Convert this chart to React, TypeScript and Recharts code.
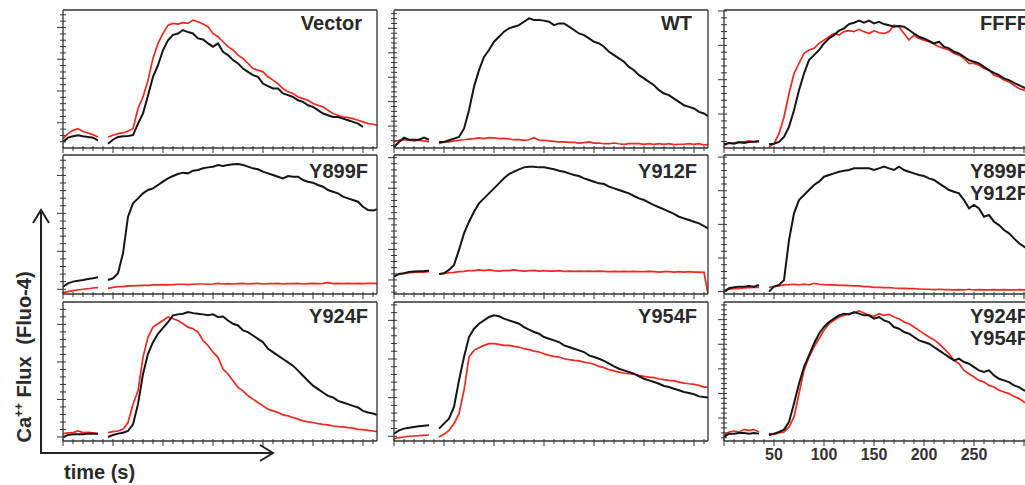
import { LineChart, Line, XAxis, YAxis } from "recharts";

// time points (s); 40 s is the gap where the stimulus was added
const TIME = [
  0, 5, 10, 15, 20, 25, 30, 35, 40,
  45, 50, 55, 60, 65, 70, 75, 80, 85, 90, 95, 100, 105, 110, 115, 120,
  125, 130, 135, 140, 145, 150, 155, 160, 165, 170, 175, 180, 185, 190, 195, 200,
  205, 210, 215, 220, 225, 230, 235, 240, 245, 250, 255, 260, 265, 270, 275, 280,
  285, 290, 295, 300, 305, 310, 314,
];

// values are % of panel height
const VECTOR_BLACK = [4.4, 7.5, 8.5, 9.2, 8.5, 8, 7.5, 5.6, null,
  3.1, 6, 8, 8.5, 8.7, 9.4, 17.7, 25, 38, 51.6, 60, 71, 78, 82, 83, 85.5,
  84, 83, 79.4, 78.7, 75.8, 73.4, 75.8, 69.7, 67.3, 63.7, 61.3, 57.6, 55.2, 52.8, 51.6, 46.7,
  44.8, 43.1, 43.1, 39.5, 38.3, 37, 34.6, 33.4, 31, 29.8, 27.4, 25, 23.7, 22.5, 22.5, 21.3,
  20.1, 18.9, 17.7, 15.3, null, null, null];
const VECTOR_RED = [6.8, 10.4, 12.8, 14, 12, 10.9, 9.7, 8, null,
  8, 9.2, 10.4, 10.9, 12.3, 14, 28.6, 37, 49, 65, 75.8, 83, 89, 90.3, 89.8, 90.8,
  90.3, 92.7, 91.5, 89.8, 87.9, 83, 80.6, 77, 73.4, 71, 67.3, 64.9, 61.3, 57.6, 56.4, 55.2,
  51.6, 49.2, 46.7, 43.1, 40.7, 39.5, 37, 35.8, 34.6, 32.2, 31, 29.8, 27.4, 25, 23.7, 22.5,
  22, 21.3, 20.1, 18.9, 17.7, 17.2, 16.5];

const WT_BLACK = [0.7, 4.4, 7.5, 6, 6, 6, 7.5, 6, null,
  4.4, 4.4, 5.6, 6.8, 8, 14, 27.4, 44.3, 56.4, 66, 71, 77, 80.6, 84.3, 86.7, 87.9,
  89, 91.5, 93.9, 92.7, 92.7, 92.3, 91.5, 89, 90.3, 90.3, 87.9, 85.5, 83, 81.8, 79.4, 77,
  75.8, 73.4, 69.7, 67.3, 64.9, 62.5, 58.8, 56.4, 52.8, 50.4, 47.9, 45.5, 41.9, 39.5, 38.3, 35.8,
  33.4, 31, 29.8, 28.6, 26.2, 25, 23];
const WT_RED = [4.4, 5.6, 6, 5.6, 5.1, 5.6, 5.1, 4.4, null,
  3.1, 4.4, 4.4, 5.1, 5.6, 6, 6.5, 6.8, 7.3, 6.8, 7.5, 7.3, 6.8, 7, 6.5, 6,
  6, 5.6, 6, 7.5, 5.6, 5.6, 5.1, 4.8, 4.4, 4.4, 4.1, 4.1, 3.6, 3.9, 4.4, 3.6,
  3.6, 3.1, 3.1, 3.6, 3.1, 2.7, 3.1, 3.1, 3.1, 2.7, 3.1, 2.7, 3.1, 2.7, 3.1, 2.4,
  2.7, 2.7, 3.1, 2.7, 3.1, 2.2, 2.4];

const FFFF_BLACK = [2.7, 3.6, 3.1, 4.1, 3.6, 4.4, 4.6, 5.1, null,
  2.7, 3.1, 4.4, 8, 15.3, 27.4, 41.9, 54, 63.7, 67.3, 71, 75.8, 79.4, 81.8, 85, 86.7,
  89.8, 90.8, 92.3, 90.8, 92.3, 90.3, 91.5, 89.8, 89, 87.9, 88.4, 87.9, 85.5, 83, 80.6, 79.4,
  77.7, 75.8, 77, 73.4, 72.2, 69.7, 68.5, 66.1, 63.7, 62.5, 61.3, 58.8, 56.4, 54.5, 52.8, 50.4,
  49.2, 47.2, 45.5, 43.8, 42.5, 41.2, 40];
const FFFF_RED = [1.9, 3.6, 3.6, 4.4, 4.4, 5.1, 4.6, 4.4, null,
  0.7, 3.1, 10.4, 22.5, 39.5, 54, 61.3, 68.5, 71, 72.2, 75.8, 78.2, 80.6, 83, 81.8, 84.3,
  85, 84.3, 86, 84.3, 83, 85, 83.5, 83, 84.3, 89, 87.9, 83, 78.2, 81.8, 79.4, 78.2,
  77, 75.3, 73.4, 72.2, 71, 68.5, 67.3, 64.9, 61.3, 61.3, 60, 57.6, 56.4, 52.8, 51.6, 49.2,
  47.9, 45.5, 43.1, 41.9, 40.8, 39.6, 38.5];

const Y899F_BLACK = [5.3, 7.7, 8.9, 9.6, 10.1, 10.8, 11.3, 12, null,
  10.1, 11.3, 14.9, 29.3, 55.6, 65.2, 68.8, 72.4, 74.8, 76, 78.4, 80.8, 83.2, 84.9, 86.3, 87.3,
  86.8, 88.7, 89.2, 90.4, 91.1, 91.6, 92.8, 92.1, 92.8, 93.3, 93.5, 92.8, 91.6, 90.4, 89.7, 88,
  86.8, 85.6, 84.4, 83.2, 84.9, 84.4, 84.4, 82, 80.8, 80.1, 78.4, 77.2, 74.8, 73.6, 72.4, 70,
  68.8, 67.6, 66.4, 62.8, 60.4, 60, 61];
const Y899F_RED = [1, 1.7, 2.4, 2.9, 3.4, 3.8, 4.3, 4.6, null,
  4.1, 4.8, 5.3, 5.3, 5.8, 5.8, 6, 6.2, 6.2, 6.5, 6.5, 6.7, 6.5, 6.7, 7, 7,
  6.7, 7, 7.2, 7.2, 7, 7.2, 7.7, 7.2, 7.5, 7.2, 7.5, 7.7, 7.2, 7.5, 7.7, 7.2,
  7.5, 7.5, 7.7, 7.2, 7.5, 7.5, 7.7, 7.2, 7.5, 7.7, 7.5, 7.7, 8.2, 7.5, 7.7, 7.5,
  7.7, 7.5, 7.7, 7.5, 7.7, 7.7, 7.5];

const Y912F_BLACK = [12.5, 14.4, 14.9, 15.8, 16.1, 16.3, 16.5, 16.8, null,
  14.4, 14.9, 17.3, 20.9, 31.7, 43.6, 52, 59.2, 65.2, 68.8, 72.4, 76, 79.6, 83.2, 86.3, 88,
  89.7, 91.1, 91.6, 91.6, 91.1, 91.1, 90.4, 89.7, 88.7, 88, 86.8, 85.6, 84.9, 83.2, 82, 80.8,
  79.6, 79.1, 77.2, 76, 74.8, 73.6, 72.4, 70.5, 68.8, 67.6, 65.7, 64, 62.4, 60.9, 59.2, 57.6,
  55.6, 54.4, 53.2, 52, 50.8, 48.9, 47.2];
const Y912F_RED = [12.9, 14.4, 14.9, 15.3, 15.6, 15.8, 15.8, 16.1, null,
  14.4, 14.9, 15.3, 15.6, 16.1, 16.3, 16.8, 16.8, 17.3, 16.8, 17.3, 16.8, 16.5, 16.8, 16.8, 17.3,
  16.8, 16.5, 16.8, 17, 16.5, 16.8, 16.5, 16.5, 16.8, 16.3, 16.5, 16.3, 16.5, 16.3, 16.5, 16.3,
  16.5, 16.3, 16.1, 16.3, 16.1, 16.3, 16.1, 16.3, 16.1, 16.1, 16.3, 16.1, 15.8, 16.1, 16.1, 15.8,
  16.1, 15.8, 16.1, 15.8, 15.8, 15.6, 0];

const DOUBLE_A_BLACK = [1.7, 4.1, 4.8, 5.3, 5.3, 5.8, 5.3, 6.5, null,
  1.7, 5.3, 6.5, 10, 38.8, 58, 67.6, 71.2, 74.8, 78.4, 80.8, 84.4, 85.6, 86.8, 88, 88.7,
  89.2, 90.4, 90.4, 90.4, 90.4, 89.2, 90.4, 91.6, 90.4, 89.2, 91.6, 89.2, 88, 86.8, 85.6, 84.9,
  83.2, 82, 79.6, 77.2, 74.8, 73.6, 72.4, 67.6, 61.6, 64, 61.6, 55.6, 56.8, 52, 49.6, 46,
  43.6, 40, 36.5, 34.1, 31.7, 30.5, 29.5];
const DOUBLE_A_RED = [2.4, 3.4, 3.8, 4.1, 4.3, 4.6, 4.8, 4.8, null,
  4.8, 5.3, 5.8, 6.5, 6.7, 7, 6.5, 7.2, 6.5, 7.7, 7, 6.7, 6.5, 6.5, 6.2, 6.2,
  6, 5.8, 5.8, 5.3, 5.3, 4.8, 4.8, 4.6, 4.6, 4.3, 4.1, 4.1, 3.8, 3.8, 3.6, 3.4,
  3.4, 3.1, 3.4, 3.1, 3.1, 2.9, 3.1, 2.9, 3.4, 2.9, 3.1, 2.9, 2.9, 3.1, 2.9, 3.1,
  2.9, 2.9, 3.1, 2.9, 3.1, 2.9, 3];

const Y924F_BLACK = [2.9, 4.3, 4.8, 4.8, 4.8, 5.3, 5.3, 5.3, null,
  2.9, 4.3, 5.3, 6, 7.2, 12, 26.5, 48.2, 62.7, 71.1, 77.1, 81.4, 85.5, 90.4, 91.1, 91.6,
  92.8, 92, 91.6, 91.1, 90.4, 91.1, 89.2, 89.6, 86.7, 84.3, 83.1, 79.5, 78.3, 75.9, 73.5, 71.1,
  66.3, 63.9, 61.4, 59, 56.6, 54.2, 50.6, 47, 43.4, 39.8, 37.3, 34.9, 32.5, 31.3, 28.9, 27.7,
  26.5, 25.3, 24.1, 21.7, 20.5, 19.8, 18.8];
const Y924F_RED = [5.3, 5.8, 6, 7.2, 6, 6.3, 5.8, 5.3, null,
  6, 6.7, 7.2, 8.4, 13.3, 26.5, 36.1, 60.2, 74.7, 81.9, 84.3, 86.7, 89.2, 88, 86.7, 84.3,
  81.9, 80.7, 78.3, 72.3, 68.7, 63.9, 60.2, 51.8, 48.2, 43.4, 38.6, 36.1, 32.5, 30.1, 27.7, 25.3,
  22.9, 21.7, 20.5, 18.8, 18.1, 16.9, 15.7, 14.5, 13.7, 13.3, 12.5, 12, 11.6, 10.8, 10.4, 10.1,
  9.6, 9.2, 8.4, 8.2, 7.7, 7.2, 6.7];

const Y954F_BLACK = [5.3, 7.7, 8.9, 9.6, 10.1, 10.6, 11, 11.3, null,
  8.9, 12.5, 16.1, 24.5, 43.6, 60.4, 74.8, 80.8, 84.4, 86.8, 89.2, 90.4, 89.7, 88, 86.8, 85.6,
  84.4, 82, 80.1, 78.4, 77.2, 74.8, 73.6, 72.4, 71.2, 68.8, 67.6, 66.4, 65.2, 64, 61.6, 60.4,
  59.2, 57.6, 55.6, 53.7, 52, 50.8, 49.6, 48.4, 46.5, 44.8, 43.6, 42.4, 41.2, 39.6, 38.8, 37.6,
  36.5, 35.3, 34.5, 33.6, 32.1, 31.7, 31.2];
const Y954F_RED = [1.7, 2.4, 2.9, 3.4, 3.6, 3.8, 4.1, 4.3, null,
  2.9, 4.8, 7.7, 12.5, 19.7, 36.5, 60.4, 65.2, 67.1, 68.8, 70, 70, 69.5, 68.8, 68.8, 68.1,
  67.6, 66.4, 65.7, 64.7, 64, 62.8, 61.6, 60.9, 60.4, 59.2, 58.5, 58, 57.6, 56.8, 56.1, 55.2,
  53.7, 52.8, 51.3, 50.4, 49.6, 48.9, 48.4, 48, 47.2, 46.5, 46, 45.6, 44.8, 44.1, 43.6, 43.2,
  42.4, 41.7, 41.2, 40.8, 40, 38.8, 38.8];

const DOUBLE_B_BLACK = [2.9, 5.3, 5.3, 5.8, 5.8, 5.3, 5.8, 5.3, null,
  4.1, 5.3, 6.5, 8.2, 13.7, 26.9, 41.2, 53.2, 61.6, 70, 77.2, 82, 85.6, 88, 90.4, 91.6,
  91.1, 92.8, 91.6, 90.4, 90.4, 88, 89.2, 86.8, 85.6, 82, 80.8, 78.4, 77.2, 74.8, 72.4, 71.2,
  70, 67.6, 65.2, 62.8, 60.4, 58, 59.2, 56.8, 55.6, 53.2, 50.8, 49.6, 50.8, 47.2, 44.8, 43.6,
  42.4, 40, 38.8, 36.5, 35.3, 34.1, 33.5];
const DOUBLE_B_RED = [4.1, 6.5, 7.2, 6.5, 8.2, 7.7, 8.2, 6.5, null,
  5.3, 4.8, 5.8, 6.5, 10.1, 17.3, 34.1, 50.8, 60.4, 67.6, 73.6, 79.6, 84.4, 86.8, 89.2, 90.4,
  91.6, 92.1, 93.5, 92.1, 90.4, 89.7, 91.6, 90.4, 91.1, 89.2, 88, 85.6, 84.4, 82, 79.6, 77.2,
  74.8, 72.9, 70, 66.4, 62.8, 58, 55.6, 50.8, 48.4, 46, 43.6, 42.4, 40, 38.8, 36.5, 35.3,
  34.1, 32.1, 30.5, 28.1, 26.9, 25.7, 25];

const X_TICKS = [0, 10, 20, 30, 40, 50, 60, 70, 80, 90, 100, 110, 120, 130, 140, 150, 160,
  170, 180, 190, 200, 210, 220, 230, 240, 250, 260, 270, 280, 290, 300, 310];
const X_LABELS = [50, 100, 150, 200, 250];

const AXIS = "#333";
const BLACK = "#151515";
const RED = "#ee2a1f";
const FONT = "'Liberation Sans', Arial, sans-serif";

const COL_X = [63, 394, 724];
const ROW_Y = [10, 155, 302];
const ROW_H = [138, 139, 139];
const BOX_W = 314;

const panels = [
  { title: ["Vector"], black: VECTOR_BLACK, red: VECTOR_RED, col: 0, row: 0, yStart: 18.3, yStep: 23.0, tx: 362, anchor: "end" },
  { title: ["WT"], black: WT_BLACK, red: WT_RED, col: 1, row: 0, yStart: 15.9, yStep: 17.7, tx: 692, anchor: "end" },
  { title: ["FFFF"], black: FFFF_BLACK, red: FFFF_RED, col: 2, row: 0, yStart: 24.6, yStep: 24.9, tx: 980, anchor: "start" },
  { title: ["Y899F"], black: Y899F_BLACK, red: Y899F_RED, col: 0, row: 1, yStart: 3.4, yStep: 27.3, tx: 368, anchor: "end" },
  { title: ["Y912F"], black: Y912F_BLACK, red: Y912F_RED, col: 1, row: 1, yStart: 10.1, yStep: 22.0, tx: 697, anchor: "end" },
  { title: ["Y899F", "Y912F"], black: DOUBLE_A_BLACK, red: DOUBLE_A_RED, col: 2, row: 1, yStart: 1.7, yStep: 24.2, tx: 970, anchor: "start" },
  { title: ["Y924F"], black: Y924F_BLACK, red: Y924F_RED, col: 0, row: 2, yStart: 2.9, yStep: 27.0, tx: 368, anchor: "end" },
  { title: ["Y954F"], black: Y954F_BLACK, red: Y954F_RED, col: 1, row: 2, yStart: 3.4, yStep: 27.8, tx: 697, anchor: "end" },
  { title: ["Y924F", "Y954F"], black: DOUBLE_B_BLACK, red: DOUBLE_B_RED, col: 2, row: 2, yStart: 16.5, yStep: 17.7, tx: 970, anchor: "start" },
];

const TITLE_BASE = [30, 178, 323];

function yTicks(start: number, step: number) {
  const minor = step / 5;
  let v = start;
  while (v - minor >= -0.01) v -= minor;
  const ticks: number[] = [];
  for (; v <= 100.01; v += minor) ticks.push(Math.round(v * 100) / 100);
  const majors: number[] = [];
  for (let m = start; m <= 100.01; m += step) majors.push(m);
  return { ticks, majors };
}

const makeXTick = (labels: boolean) => (props: any) => {
  const { x, y, payload } = props;
  const v = payload.value;
  const major = v % 50 === 0;
  return (
    <g>
      <line x1={x} x2={x} y1={y - 2} y2={y + (major ? 5 : 3)} stroke={AXIS} strokeWidth={1} />
      {labels && X_LABELS.includes(v) && (
        <text x={x} y={y + 19} textAnchor="middle" fontSize={16} fontWeight="bold" fill="#333" fontFamily={FONT}>
          {v}
        </text>
      )}
    </g>
  );
};

const makeYTick = (majors: number[]) => (props: any) => {
  const { x, y, payload } = props;
  const major = majors.some((m) => Math.abs(m - payload.value) < 0.1);
  return <line x1={x - (major ? 6 : 3)} x2={x + 3} y1={y} y2={y} stroke={AXIS} strokeWidth={1} />;
};

// space around each box; axes take 1px of it (recharts skips 0-sized axes)
const PAD_L = 12;
const PAD_T = 4;
const PAD_R = 4;
const PAD_B = 26;

function Panel({ p }: { p: (typeof panels)[number] }) {
  const data = TIME.map((t, i) => ({ t, black: p.black[i], red: p.red[i] }));
  const { ticks, majors } = yTicks(p.yStart, p.yStep);
  const h = ROW_H[p.row];
  const showLabels = p.col === 2 && p.row === 2;
  return (
    <div style={{ position: "absolute", left: COL_X[p.col] - PAD_L, top: ROW_Y[p.row] - PAD_T }}>
      <LineChart
        width={BOX_W + PAD_L + PAD_R}
        height={h + PAD_T + PAD_B}
        data={data}
        margin={{ top: PAD_T - 1, right: PAD_R - 1, left: PAD_L - 1, bottom: PAD_B - 1 }}
      >
        <XAxis
          dataKey="t"
          type="number"
          domain={[0, 314]}
          allowDataOverflow
          ticks={X_TICKS}
          interval={0}
          height={1}
          tickSize={0}
          tickMargin={0}
          tickLine={false}
          tick={makeXTick(showLabels)}
          axisLine={{ stroke: AXIS, strokeWidth: 1.3 }}
        />
        <XAxis
          xAxisId="top"
          orientation="top"
          type="number"
          domain={[0, 314]}
          height={1}
          tick={false}
          tickLine={false}
          axisLine={{ stroke: AXIS, strokeWidth: 1.3 }}
        />
        <YAxis
          type="number"
          domain={[0, 100]}
          allowDataOverflow
          ticks={ticks}
          interval={0}
          width={1}
          tickSize={0}
          tickMargin={0}
          tickLine={false}
          tick={makeYTick(majors)}
          axisLine={{ stroke: AXIS, strokeWidth: 1.3 }}
        />
        <YAxis
          yAxisId="right"
          orientation="right"
          type="number"
          domain={[0, 100]}
          width={1}
          tick={false}
          tickLine={false}
          axisLine={{ stroke: AXIS, strokeWidth: 1.3 }}
        />
        <Line dataKey="red" stroke={RED} strokeWidth={1.7} dot={false} isAnimationActive={false} connectNulls={false} />
        <Line dataKey="black" stroke={BLACK} strokeWidth={2} dot={false} isAnimationActive={false} connectNulls={false} />
      </LineChart>
    </div>
  );
}

export default function App() {
  return (
    <div
      style={{
        position: "absolute",
        left: 0,
        top: 0,
        width: 1025,
        height: 485,
        overflow: "hidden",
        background: "#fff",
        fontFamily: FONT,
      }}
    >
      {panels.map((p, i) => (
        <Panel key={i} p={p} />
      ))}
      <svg width={1025} height={485} style={{ position: "absolute", left: 0, top: 0, pointerEvents: "none" }}>
        {panels.map((p, i) =>
          p.title.map((line, j) => (
            <text
              key={`${i}-${j}`}
              x={p.tx}
              y={TITLE_BASE[p.row] + j * 22}
              textAnchor={p.anchor as any}
              fontSize={20}
              fontWeight="bold"
              fill="#2a2a2a"
              fontFamily={FONT}
            >
              {line}
            </text>
          ))
        )}
        {/* axis arrows */}
        <g stroke="#222" strokeWidth={2} fill="none">
          <line x1={41} y1={454} x2={41} y2={211} />
          <polyline points="33,223 41,210 49,223" />
          <line x1={40} y1={453} x2={272} y2={453} />
          <polyline points="260,445 273,453 260,461" />
        </g>
        <text
          transform="translate(31 357) rotate(-90)"
          textAnchor="middle"
          fontSize={20}
          fontWeight="bold"
          fill="#2a2a2a"
          fontFamily={FONT}
        >
          Ca
          <tspan dy={-8} fontSize={12}>++</tspan>
          <tspan dy={8}> Flux </tspan>
          <tspan dx={6}>(Fluo-4)</tspan>
        </text>
        <text x={64} y={479} fontSize={20} fontWeight="bold" fill="#2a2a2a" fontFamily={FONT}>
          time (s)
        </text>
      </svg>
    </div>
  );
}
